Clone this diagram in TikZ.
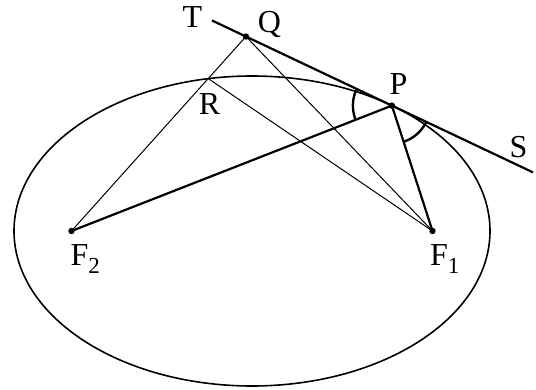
\documentclass[tikz,border=0pt]{standalone}
\usepackage{fontspec}
\setmainfont{Liberation Serif}
\usetikzlibrary{calc,angles,intersections}
\tikzset{
  curve/.style={draw=black, line width=1.6pt},
  heavy/.style={draw=black, line width=2.2pt},
  fine/.style={draw=black, line width=1pt},
  ptdot/.style={fill=black},
  lbl/.style={font=\fontsize{32}{32}\selectfont, inner sep=0pt, anchor=base},
  anglearc/.style={draw=black, line width=2.4pt, angle radius=39pt}
}
\newcommand{\fsub}[1]{\raisebox{-8pt}{\fontsize{23}{23}\selectfont #1}}

\begin{document}
\begin{tikzpicture}[x=1pt,y=1pt]
  \useasboundingbox (0,0) rectangle (536,389);
  % ellipse and foci
  \coordinate (O) at (252,158);
  \coordinate (F1) at (432.5,158);
  \coordinate (F2) at (71.5,158);
  \draw[curve, name path=ell] (O) ellipse [x radius=238, y radius=155];
  % tangent at P
  \coordinate (P) at ($(O)+(54:238 and 155)$);
  \coordinate (Pt) at ($(P)+(144:238 and 155)$);
  \coordinate (T) at ($(P)!0.9345!(Pt)$);
  \coordinate (S) at ($(P)!-0.733!(Pt)$);
  \coordinate (Q) at ($(P)!0.758!(Pt)$);
  \path[name path=qf] (Q) -- (F2);
  \path[name intersections={of=ell and qf, by=R}];

  \draw[fine] (Q) -- (F2);
  \draw[fine] (Q) -- (F1);
  \draw[fine] (R) -- (F1);
  \draw[heavy] (T) -- (S);
  \draw[heavy] (F2) -- (P) -- (F1);
  \pic[anglearc] {angle=T--P--F2};
  \pic[anglearc, angle radius=38pt] {angle=F1--P--S};
  \foreach \p in {P,Q,F1,F2}
    \fill[ptdot] (\p) circle (3.2);

  % labels
  \node[lbl] (lT) at (192.5,361) {T};
  \node[lbl] (lQ) at (269.5,356) {Q};
  \node[lbl] (lR) at (209.5,274) {R};
  \node[lbl] (lP) at (398.5,294) {P};
  \node[lbl] (lS) at (518.5,231) {S};
  \node[lbl, anchor=base west] (lF2) at (70.5,124) {F\fsub{2}};
  \node[lbl, anchor=base west] (lF1) at (430,124) {F\fsub{1}};
\end{tikzpicture}
\end{document}
